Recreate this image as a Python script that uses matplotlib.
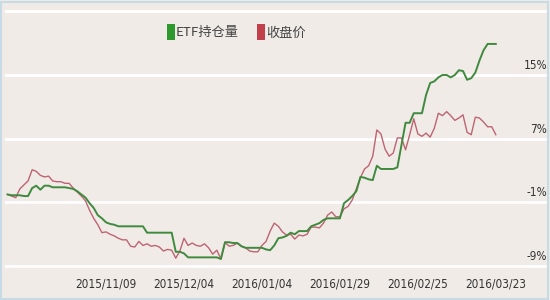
import matplotlib.pyplot as plt
from matplotlib.patches import Patch, Rectangle
from matplotlib.transforms import blended_transform_factory
from matplotlib import font_manager

plt.rcParams['font.family'] = ['Noto Sans CJK SC', 'DejaVu Sans']

# 相对涨跌幅 (%), 每个交易日一个点
etf_holding = [
    0.0, -0.1, -0.1, -0.1, -0.2, -0.2, 0.8, 1.1, 0.6, 1.1,
    1.1, 0.9, 0.9, 0.9, 0.9, 0.8, 0.7, 0.4, 0.0, -0.4,
    -1.1, -1.7, -2.6, -3.0, -3.5, -3.7, -3.8, -4.0, -4.0, -4.0,
    -4.0, -4.0, -4.0, -4.0, -4.8, -4.8, -4.8, -4.8, -4.8, -4.8,
    -4.8, -7.2, -7.2, -7.4, -7.9, -7.9, -7.9, -7.9, -7.9, -7.9,
    -7.9, -7.9, -8.1, -6.0, -6.0, -6.1, -6.1, -6.5, -6.7, -6.7,
    -6.7, -6.7, -6.7, -6.9, -7.0, -6.4, -5.5, -5.4, -5.2, -4.8,
    -5.0, -4.6, -4.6, -4.6, -4.0, -3.8, -3.6, -3.2, -3.0, -3.0,
    -3.0, -3.0, -1.1, -0.7, -0.2, 0.4, 2.2, 2.1, 1.9, 1.8,
    3.6, 3.2, 3.2, 3.2, 3.2, 3.4, 6.2, 9.0, 9.0, 10.2,
    10.2, 10.2, 12.5, 14.0, 14.2, 14.7, 15.0, 15.0, 14.7, 15.0,
    15.6, 15.5, 14.4, 14.6, 15.3, 16.8, 18.1, 18.9, 18.9, 18.9,
]
close_price = [
    0.0, -0.2, -0.4, 0.7, 1.2, 1.7, 3.1, 2.9, 2.4, 2.2,
    2.3, 1.7, 1.6, 1.6, 1.4, 1.4, 0.8, 0.3, -0.2, -0.8,
    -2.0, -3.0, -3.8, -4.8, -4.7, -5.0, -5.2, -5.5, -5.7, -5.7,
    -6.5, -6.6, -5.9, -6.4, -6.2, -6.5, -6.4, -6.6, -7.1, -6.9,
    -7.0, -8.0, -7.1, -5.5, -6.4, -6.1, -6.4, -6.5, -6.2, -6.7,
    -7.5, -7.0, -8.1, -6.0, -6.5, -6.4, -6.1, -6.5, -6.7, -7.1,
    -7.2, -7.2, -6.4, -5.9, -4.6, -3.6, -4.0, -4.7, -5.1, -5.0,
    -5.6, -5.1, -5.2, -5.0, -4.1, -4.1, -4.2, -3.6, -2.6, -2.2,
    -2.8, -2.8, -1.8, -1.5, -0.7, 0.7, 2.1, 3.2, 3.6, 4.8,
    8.1, 7.6, 5.7, 4.8, 5.2, 7.1, 7.1, 5.6, 7.5, 9.5,
    7.6, 7.3, 7.7, 7.2, 8.3, 10.2, 9.9, 10.4, 9.9, 9.3,
    9.6, 10.0, 7.8, 7.5, 9.7, 9.6, 9.1, 8.5, 8.5, 7.5,
]
tick_pos = [24, 43, 62, 81, 100, 119]
tick_labels = ["2015/11/09", "2015/12/04", "2016/01/04",
               "2016/01/29", "2016/02/25", "2016/03/23"]
y_ticks = [-9, -1, 7, 15, 23]
y_labels = ["-9%", "-1%", "7%", "15%", ""]

# 窄字体: 优先 Liberation Sans Narrow, 否则 DejaVu Sans Condensed
num_font = font_manager.FontProperties(family="DejaVu Sans", stretch="condensed", size=8.5)
for f in font_manager.fontManager.ttflist:
    if f.name == "Liberation Sans Narrow":
        num_font = font_manager.FontProperties(family="Liberation Sans Narrow", size=9.5)
        break

bg = "#f0ebe6"
fig = plt.figure(figsize=(5.5, 3.0), dpi=100, facecolor=bg)
ax = fig.add_axes([0.009, 0.093, 0.988, 0.88], facecolor=bg)

x = list(range(len(close_price)))
ax.plot(x, close_price, color="#bd6473", lw=1.0, zorder=3)
ax.plot(x, etf_holding, color="#3f8a3f", lw=1.4, zorder=4)

ax.set_xlim(-0.63, 131.8)
ax.set_ylim(-9.75, 23.4)
ax.set_yticks(y_ticks)
ax.set_yticklabels([])
ax.tick_params(axis="y", length=0)
ax.grid(axis="y", color="white", lw=2.0, zorder=1)
ax.set_xticks(tick_pos)
ax.set_xticklabels(tick_labels, fontproperties=num_font, color="#333333")
ax.tick_params(axis="x", length=0, pad=4)
for s in ax.spines.values():
    s.set_visible(False)

# 右侧百分比刻度, 写在网格线上方
trans = blended_transform_factory(ax.transAxes, ax.transData)
for v, lab in zip(y_ticks, y_labels):
    ax.text(0.998, v + 0.4, lab, transform=trans, ha="right", va="bottom",
            fontproperties=num_font, color="#333333")

handles = [Patch(facecolor="#2e9a2e", edgecolor="none", label="ETF持仓量"),
           Patch(facecolor="#c0404c", edgecolor="none", label="收盘价")]
fig.legend(handles=handles, loc="center", bbox_to_anchor=(0.43, 0.893),
           ncol=2, frameon=False, fontsize=9.5, handlelength=0.6,
           handleheight=1.5, handletextpad=0.1, columnspacing=1.4,
           labelcolor="#444444")

fig.patches.append(Rectangle((0.002, 0.003), 0.995, 0.99, transform=fig.transFigure,
                             fill=False, edgecolor="#c6dbe6", lw=1.5))

fig.savefig("out.png", dpi=100, facecolor=bg)
